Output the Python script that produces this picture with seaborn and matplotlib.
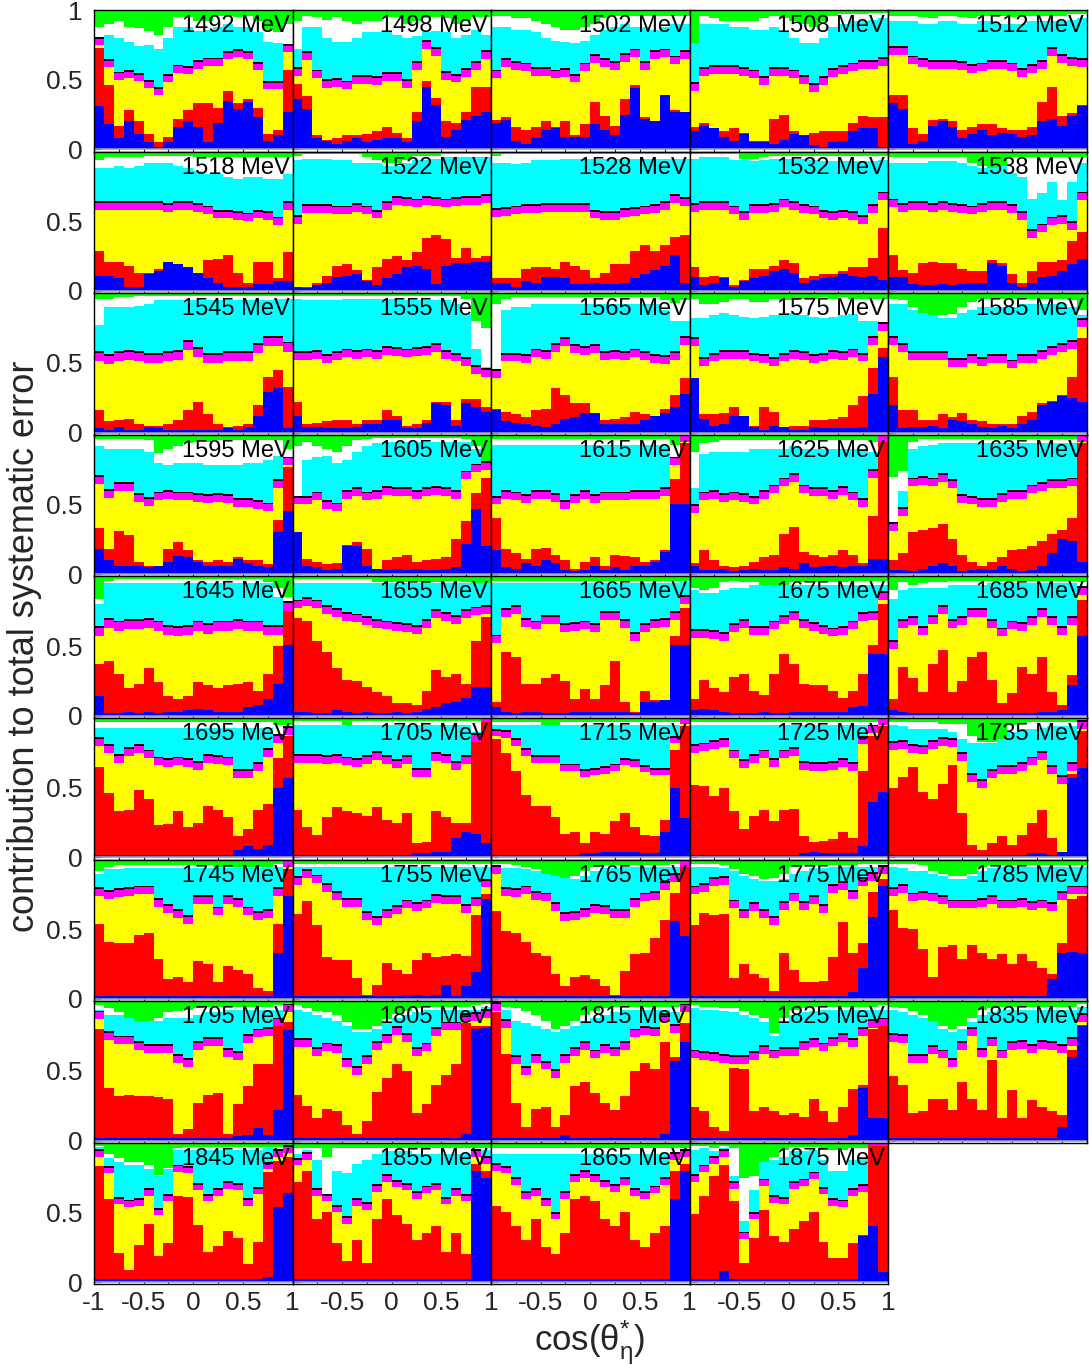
import numpy as np
import pandas as pd
import matplotlib
matplotlib.use("Agg")
import matplotlib.pyplot as plt
import seaborn as sns
from matplotlib.ticker import MultipleLocator, FixedLocator

# Cumulative layer tops (percent) for 20 bins of cos(theta*_eta), one dict per beam energy.
# blue/red/yellow/cyan/white are the upper edges of those bands; mag is the magenta band width.
p1492 = dict(E=1492, mag=4.5,
    blue=[31, 18, 8, 20, 11, 5, 2, 5, 16, 20, 16, 5, 19, 35, 29, 34, 23, 6, 10, 27],
    red=[73, 46, 17, 28, 20, 11, 5, 9, 22, 28, 33, 33, 30, 42, 33, 36, 30, 11, 14, 57],
    yellow=[75, 59, 50, 51, 49, 44, 39, 48, 55, 54, 58, 60, 60, 65, 66, 65, 57, 43, 43, 70],
    cyan=[76, 82, 80, 77, 74, 75, 72, 80, 88, 88, 85, 86, 88, 90, 88, 88, 84, 77, 76, 74],
    white=[88, 90, 92, 88, 87, 85, 82, 88, 95, 95, 92, 92, 96, 96, 95, 96, 92, 86, 84, 90])
p1498 = dict(E=1498, mag=5,
    blue=[36, 29, 8, 6, 4, 6, 8, 5, 7, 8, 8, 5, 20, 45, 32, 9, 14, 21, 24, 27],
    red=[47, 38, 10, 7, 8, 10, 10, 11, 13, 16, 12, 8, 27, 49, 37, 20, 19, 27, 45, 45],
    yellow=[53, 64, 51, 44, 45, 43, 47, 47, 46, 49, 49, 44, 57, 72, 67, 50, 48, 52, 57, 65],
    cyan=[72, 88, 88, 80, 77, 77, 80, 84, 84, 85, 82, 80, 81, 84, 85, 84, 80, 82, 86, 82],
    white=[92, 96, 95, 93, 95, 92, 90, 92, 92, 95, 95, 90, 92, 94, 95, 94, 90, 92, 95, 95])
p1502 = dict(E=1502, mag=5,
    blue=[19, 21, 6, 4, 8, 14, 15, 9, 9, 9, 18, 14, 10, 25, 44, 22, 20, 39, 27, 27],
    red=[21, 23, 16, 14, 16, 20, 16, 20, 10, 18, 34, 24, 17, 36, 46, 23, 20, 39, 28, 27],
    yellow=[51, 59, 57, 56, 53, 53, 51, 52, 48, 56, 62, 59, 57, 63, 66, 57, 65, 66, 61, 65],
    cyan=[88, 88, 86, 86, 84, 80, 78, 77, 76, 78, 82, 86, 88, 90, 88, 88, 86, 88, 90, 90],
    white=[96, 96, 94, 94, 92, 90, 88, 86, 86, 88, 90, 94, 96, 96, 96, 96, 96, 96, 96, 96])
p1508 = dict(E=1508, mag=5,
    blue=[13, 17, 15, 9, 6, 11, 5, 5, 4, 7, 11, 10, 3, 2, 5, 6, 13, 15, 15, 2],
    red=[16, 19, 15, 13, 15, 12, 6, 6, 22, 25, 13, 10, 12, 13, 13, 13, 19, 24, 23, 23],
    yellow=[42, 53, 54, 54, 54, 53, 51, 46, 53, 53, 51, 47, 41, 46, 52, 54, 56, 58, 58, 60],
    cyan=[76, 90, 90, 90, 88, 88, 86, 86, 88, 85, 80, 76, 76, 80, 88, 90, 92, 92, 93, 94],
    white=[76, 96, 94, 92, 92, 92, 92, 94, 96, 94, 92, 90, 88, 92, 96, 97, 97, 97, 98, 98])
p1512 = dict(E=1512, mag=5,
    blue=[33, 29, 4, 6, 17, 20, 16, 8, 11, 14, 10, 12, 11, 9, 10, 20, 22, 17, 24, 31],
    red=[39, 39, 15, 11, 21, 22, 20, 14, 16, 18, 18, 15, 14, 14, 16, 34, 45, 24, 26, 32],
    yellow=[68, 68, 61, 59, 58, 58, 58, 57, 55, 56, 58, 58, 56, 52, 55, 58, 67, 62, 60, 59],
    cyan=[92, 92, 92, 90, 90, 92, 92, 90, 90, 92, 92, 90, 90, 90, 92, 92, 92, 92, 93, 94],
    white=[96, 96, 96, 95, 94, 96, 96, 95, 94, 96, 96, 96, 95, 96, 96, 96, 96, 96, 97, 97])
p1518 = dict(E=1518, mag=5,
    blue=[11, 11, 9, 3, 3, 12, 14, 21, 19, 17, 13, 9, 6, 3, 3, 3, 5, 5, 7, 7],
    red=[29, 21, 21, 18, 13, 13, 16, 20, 16, 15, 13, 22, 23, 26, 13, 6, 21, 21, 9, 28],
    yellow=[58, 58, 58, 58, 58, 58, 58, 57, 58, 58, 57, 55, 52, 52, 51, 50, 52, 51, 47, 58],
    cyan=[88, 88, 90, 88, 90, 92, 92, 92, 90, 88, 86, 84, 84, 82, 80, 82, 82, 80, 80, 84],
    white=[94, 96, 96, 96, 96, 97, 97, 97, 97, 97, 96, 96, 96, 96, 96, 96, 96, 96, 96, 96])
p1522 = dict(E=1522, mag=5,
    blue=[3, 2, 4, 6, 10, 11, 12, 7, 4, 9, 12, 17, 18, 16, 5, 18, 20, 20, 21, 21],
    red=[3, 3, 6, 11, 18, 19, 15, 8, 17, 23, 25, 22, 28, 38, 40, 37, 24, 31, 24, 25],
    yellow=[48, 56, 56, 56, 55, 55, 57, 55, 52, 58, 62, 61, 60, 62, 61, 60, 61, 62, 62, 63],
    cyan=[94, 95, 95, 95, 94, 94, 92, 92, 92, 90, 90, 92, 94, 94, 95, 96, 96, 96, 96, 96],
    white=[97, 98, 98, 98, 98, 98, 98, 96, 94, 92, 92, 94, 97, 97, 97, 98, 98, 98, 98, 98])
p1528 = dict(E=1528, mag=5,
    blue=[6, 6, 3, 7, 6, 10, 10, 9, 5, 5, 6, 5, 5, 6, 9, 12, 15, 18, 26, 6],
    red=[9, 9, 9, 16, 17, 17, 16, 21, 18, 15, 9, 13, 19, 19, 29, 33, 29, 33, 39, 40],
    yellow=[53, 54, 55, 56, 56, 57, 57, 57, 57, 57, 52, 51, 51, 53, 54, 55, 56, 58, 63, 61],
    cyan=[92, 92, 91, 92, 94, 94, 94, 95, 95, 95, 95, 95, 95, 95, 95, 95, 95, 95, 95, 95],
    white=[97, 98, 98, 98, 98, 98, 98, 98, 98, 98, 98, 98, 98, 98, 98, 98, 98, 98, 98, 98])
p1532 = dict(E=1532, mag=5,
    blue=[10, 4, 6, 9, 3, 7, 9, 11, 14, 16, 13, 6, 8, 9, 10, 12, 11, 10, 11, 8],
    red=[17, 10, 11, 10, 4, 8, 16, 16, 18, 22, 20, 9, 11, 12, 12, 14, 17, 17, 24, 45],
    yellow=[57, 58, 58, 58, 55, 51, 56, 56, 57, 60, 58, 56, 55, 52, 51, 52, 51, 48, 56, 65],
    cyan=[95, 96, 96, 96, 94, 94, 93, 94, 95, 95, 95, 95, 94, 93, 93, 93, 93, 93, 93, 94],
    white=[98, 98, 98, 98, 98, 95, 95, 96, 97, 97, 97, 97, 97, 97, 97, 97, 97, 97, 97, 97])
p1538 = dict(E=1538, mag=5,
    blue=[10, 10, 5, 4, 4, 5, 4, 5, 6, 6, 20, 18, 6, 3, 6, 10, 11, 14, 19, 23],
    red=[26, 15, 13, 20, 21, 20, 20, 16, 14, 14, 22, 20, 12, 6, 14, 21, 21, 22, 36, 42],
    yellow=[60, 57, 58, 58, 57, 58, 57, 56, 55, 57, 58, 58, 56, 51, 38, 42, 47, 48, 44, 65],
    cyan=[92, 92, 92, 92, 93, 93, 93, 92, 90, 88, 88, 90, 85, 82, 66, 70, 78, 65, 78, 92],
    white=[96, 96, 96, 96, 96, 96, 96, 96, 92, 90, 88, 90, 96, 96, 96, 96, 96, 96, 96, 96])
p1545 = dict(E=1545, mag=6,
    blue=[3, 2, 4, 2, 2, 4, 3, 2, 2, 2, 2, 2, 2, 3, 2, 4, 12, 29, 32, 3],
    red=[16, 8, 9, 10, 6, 5, 5, 6, 9, 16, 22, 13, 6, 4, 5, 6, 20, 40, 45, 33],
    yellow=[51, 49, 51, 52, 51, 50, 50, 51, 52, 59, 54, 50, 50, 51, 51, 51, 57, 62, 62, 58],
    cyan=[77, 90, 90, 90, 91, 92, 95, 95, 95, 95, 95, 95, 95, 95, 95, 95, 95, 95, 96, 96],
    white=[96, 96, 97, 97, 98, 98, 98, 98, 98, 98, 98, 98, 98, 98, 98, 98, 98, 98, 98, 98])
p1555 = dict(E=1555, mag=5,
    blue=[12, 4, 4, 3, 3, 3, 4, 6, 6, 9, 9, 3, 3, 7, 21, 20, 5, 21, 18, 15],
    red=[22, 6, 7, 8, 9, 9, 6, 9, 9, 16, 12, 5, 6, 9, 22, 22, 9, 24, 24, 18],
    yellow=[52, 52, 53, 50, 52, 54, 53, 54, 53, 56, 55, 54, 55, 56, 58, 53, 51, 48, 42, 40],
    cyan=[96, 95, 95, 95, 95, 96, 96, 96, 96, 96, 96, 95, 95, 95, 95, 95, 92, 85, 60, 47],
    white=[98, 98, 98, 98, 98, 98, 98, 98, 98, 98, 98, 98, 98, 98, 98, 98, 98, 96, 80, 75])
p1565 = dict(E=1565, mag=5,
    blue=[16, 8, 7, 6, 5, 4, 6, 10, 11, 14, 14, 6, 6, 6, 6, 9, 12, 14, 18, 28],
    red=[17, 15, 13, 11, 16, 17, 32, 27, 21, 21, 10, 9, 10, 11, 15, 13, 10, 17, 27, 39],
    yellow=[39, 51, 51, 50, 54, 53, 58, 62, 57, 56, 57, 52, 53, 52, 54, 52, 50, 49, 52, 63],
    cyan=[44, 88, 90, 90, 92, 92, 92, 92, 92, 92, 92, 92, 92, 92, 92, 92, 92, 88, 80, 80],
    white=[92, 96, 97, 97, 97, 97, 97, 97, 97, 97, 97, 97, 97, 97, 97, 97, 97, 95, 93, 95])
p1575 = dict(E=1575, mag=5,
    blue=[39, 10, 5, 6, 12, 12, 4, 2, 5, 4, 2, 2, 4, 3, 3, 3, 3, 4, 28, 54],
    red=[39, 13, 13, 14, 18, 12, 5, 18, 15, 3, 5, 5, 9, 9, 10, 11, 20, 26, 46, 61],
    yellow=[62, 48, 51, 53, 53, 53, 51, 50, 48, 51, 53, 52, 50, 51, 53, 52, 54, 51, 63, 73],
    cyan=[82, 82, 84, 86, 84, 83, 82, 83, 84, 85, 86, 84, 83, 82, 83, 84, 85, 80, 80, 76],
    white=[96, 92, 92, 94, 96, 96, 94, 94, 96, 95, 95, 96, 96, 97, 96, 97, 96, 96, 96, 96])
p1585 = dict(E=1585, mag=5,
    blue=[20, 3, 4, 4, 5, 3, 9, 8, 6, 4, 3, 5, 3, 6, 9, 20, 22, 26, 25, 22],
    red=[40, 16, 16, 9, 9, 13, 11, 14, 9, 8, 6, 6, 6, 12, 15, 21, 23, 27, 40, 68],
    yellow=[63, 58, 52, 52, 52, 52, 47, 47, 50, 48, 50, 50, 46, 50, 50, 53, 56, 58, 60, 76],
    cyan=[92, 92, 88, 86, 84, 82, 82, 86, 88, 90, 90, 90, 90, 92, 92, 92, 92, 92, 90, 84],
    white=[96, 95, 90, 86, 83, 84, 85, 90, 94, 96, 96, 96, 96, 96, 96, 96, 96, 96, 95, 88])
p1595 = dict(E=1595, mag=5,
    blue=[18, 10, 6, 6, 6, 5, 6, 9, 13, 12, 9, 6, 6, 6, 11, 8, 6, 5, 30, 45],
    red=[33, 18, 31, 28, 9, 6, 6, 18, 23, 17, 10, 9, 10, 9, 12, 10, 10, 7, 39, 77],
    yellow=[65, 55, 60, 60, 52, 49, 53, 54, 53, 53, 52, 51, 52, 51, 48, 48, 47, 45, 62, 78],
    cyan=[92, 90, 90, 90, 90, 88, 80, 78, 80, 80, 80, 78, 78, 78, 78, 80, 80, 82, 85, 82],
    white=[97, 97, 97, 97, 97, 96, 87, 90, 92, 94, 95, 95, 96, 96, 96, 96, 96, 96, 96, 90])
p1605 = dict(E=1605, mag=5,
    blue=[30, 6, 5, 3, 4, 20, 20, 6, 4, 3, 4, 3, 4, 3, 3, 4, 5, 22, 47, 20],
    red=[30, 11, 9, 7, 8, 21, 23, 18, 4, 10, 12, 14, 9, 10, 11, 12, 25, 38, 58, 69],
    yellow=[50, 50, 53, 47, 45, 54, 56, 53, 54, 57, 56, 56, 54, 56, 57, 56, 54, 68, 73, 75],
    cyan=[52, 82, 84, 85, 80, 82, 88, 92, 94, 95, 95, 95, 95, 95, 95, 95, 95, 95, 90, 79],
    white=[92, 95, 92, 90, 88, 92, 96, 97, 98, 98, 98, 98, 98, 98, 98, 98, 98, 97, 92, 80])
p1615 = dict(E=1615, mag=5,
    blue=[17, 5, 4, 8, 6, 10, 8, 3, 2, 3, 6, 3, 5, 3, 6, 6, 9, 16, 50, 50],
    red=[40, 18, 15, 11, 18, 19, 14, 10, 4, 9, 12, 6, 14, 13, 12, 9, 10, 17, 68, 94],
    yellow=[50, 54, 53, 51, 54, 54, 52, 47, 51, 54, 51, 53, 53, 53, 54, 54, 54, 56, 78, 95],
    cyan=[93, 93, 93, 93, 93, 93, 93, 93, 93, 93, 93, 93, 93, 93, 93, 93, 93, 92, 82, 97],
    white=[97, 97, 97, 97, 97, 97, 97, 97, 97, 97, 97, 97, 97, 97, 97, 97, 97, 97, 93, 98])
p1625 = dict(E=1625, mag=5,
    blue=[6, 3, 3, 4, 2, 3, 4, 3, 3, 5, 4, 8, 5, 6, 6, 5, 6, 6, 11, 11],
    red=[8, 17, 10, 6, 5, 6, 9, 12, 14, 29, 34, 16, 14, 12, 14, 17, 14, 8, 42, 95],
    yellow=[44, 53, 54, 52, 53, 52, 50, 54, 58, 63, 66, 58, 56, 56, 54, 57, 53, 48, 69, 95],
    cyan=[62, 86, 88, 88, 88, 88, 90, 90, 90, 90, 92, 90, 90, 90, 90, 90, 90, 90, 88, 96],
    white=[88, 94, 95, 96, 96, 96, 96, 96, 96, 96, 96, 96, 96, 96, 96, 96, 96, 96, 95, 98])
p1635 = dict(E=1635, mag=5,
    blue=[3, 3, 2, 4, 6, 8, 6, 2, 3, 4, 3, 6, 4, 2, 3, 6, 15, 25, 24, 9],
    red=[10, 15, 30, 32, 33, 36, 25, 14, 9, 6, 9, 12, 17, 18, 20, 24, 29, 32, 40, 94],
    yellow=[31, 42, 63, 64, 63, 66, 62, 51, 50, 48, 48, 52, 54, 54, 58, 60, 62, 62, 63, 95],
    cyan=[34, 60, 90, 92, 93, 94, 94, 94, 94, 94, 94, 94, 94, 94, 94, 94, 94, 94, 94, 97],
    white=[70, 74, 95, 97, 97, 97, 97, 97, 97, 97, 97, 97, 97, 97, 97, 97, 97, 97, 97, 98])
p1645 = dict(E=1645, mag=6,
    blue=[14, 2, 2, 3, 2, 3, 2, 3, 3, 4, 5, 4, 3, 3, 3, 6, 8, 12, 23, 51],
    red=[37, 39, 30, 20, 23, 34, 24, 14, 12, 14, 24, 22, 20, 22, 23, 24, 18, 30, 50, 75],
    yellow=[57, 63, 61, 62, 62, 63, 61, 58, 57, 58, 61, 59, 61, 61, 62, 61, 61, 58, 58, 74],
    cyan=[80, 95, 95, 95, 95, 95, 95, 95, 95, 95, 95, 95, 95, 95, 95, 95, 95, 95, 85, 80],
    white=[84, 97, 98, 98, 98, 98, 98, 98, 98, 98, 98, 98, 98, 98, 98, 98, 98, 96, 92, 85])
p1655 = dict(E=1655, mag=5,
    blue=[3, 3, 2, 2, 4, 3, 2, 3, 2, 2, 3, 2, 3, 5, 6, 9, 10, 13, 21, 21],
    red=[70, 68, 54, 46, 34, 26, 25, 21, 17, 14, 9, 9, 8, 18, 33, 28, 30, 23, 54, 71],
    yellow=[77, 79, 77, 73, 71, 68, 67, 65, 63, 62, 61, 60, 59, 63, 70, 68, 66, 70, 72, 73],
    cyan=[95, 95, 95, 95, 95, 95, 95, 95, 95, 95, 95, 95, 95, 95, 95, 95, 95, 95, 95, 95],
    white=[98, 98, 98, 98, 98, 98, 98, 98, 96, 96, 96, 96, 96, 95, 96, 97, 97, 96, 90, 90])
p1665 = dict(E=1665, mag=5,
    blue=[6, 3, 2, 3, 3, 2, 2, 2, 3, 3, 3, 3, 3, 3, 2, 10, 10, 11, 51, 51],
    red=[10, 46, 42, 23, 23, 27, 30, 25, 12, 19, 12, 22, 39, 10, 3, 18, 11, 11, 57, 77],
    yellow=[52, 71, 73, 64, 62, 66, 66, 60, 61, 62, 60, 69, 69, 63, 54, 60, 63, 64, 69, 80],
    cyan=[95, 95, 95, 95, 95, 95, 95, 95, 95, 95, 95, 95, 95, 95, 95, 95, 95, 95, 95, 96],
    white=[97, 97, 97, 97, 97, 97, 97, 97, 97, 97, 97, 97, 97, 97, 97, 97, 97, 97, 97, 97])
p1675 = dict(E=1675, mag=5,
    blue=[4, 5, 4, 3, 2, 2, 2, 3, 2, 2, 3, 3, 3, 3, 3, 3, 6, 7, 44, 44],
    red=[12, 26, 20, 17, 28, 30, 18, 15, 30, 44, 37, 23, 22, 22, 18, 13, 18, 30, 51, 80],
    yellow=[56, 56, 55, 54, 60, 63, 58, 58, 62, 66, 69, 63, 61, 59, 57, 58, 62, 68, 69, 83],
    cyan=[90, 88, 88, 90, 92, 92, 94, 94, 94, 94, 94, 94, 94, 94, 94, 94, 94, 94, 94, 94],
    white=[92, 90, 92, 96, 97, 96, 96, 94, 92, 93, 96, 96, 96, 96, 96, 96, 97, 97, 97, 97])
p1685 = dict(E=1685, mag=5,
    blue=[4, 3, 2, 2, 2, 2, 2, 2, 2, 2, 2, 2, 2, 2, 2, 3, 3, 4, 22, 57],
    red=[12, 35, 27, 17, 37, 47, 17, 25, 42, 46, 26, 9, 16, 35, 30, 42, 17, 8, 29, 83],
    yellow=[48, 63, 65, 58, 66, 73, 63, 65, 71, 71, 63, 57, 62, 61, 65, 71, 65, 58, 65, 87],
    cyan=[84, 90, 92, 92, 92, 92, 94, 94, 94, 94, 95, 95, 95, 95, 95, 95, 95, 95, 95, 92],
    white=[90, 96, 94, 95, 96, 96, 97, 97, 97, 97, 97, 97, 97, 97, 97, 97, 97, 97, 97, 96])
p1695 = dict(E=1695, mag=5,
    blue=[2, 2, 2, 2, 2, 2, 2, 2, 2, 2, 2, 2, 2, 2, 5, 8, 6, 9, 50, 57],
    red=[65, 46, 33, 34, 48, 42, 23, 24, 33, 22, 25, 37, 34, 29, 15, 20, 34, 38, 71, 87],
    yellow=[80, 75, 68, 73, 75, 71, 66, 65, 66, 65, 63, 68, 67, 66, 57, 57, 62, 72, 82, 88],
    cyan=[93, 93, 93, 93, 93, 93, 93, 93, 93, 93, 93, 93, 93, 93, 93, 93, 93, 93, 88, 88],
    white=[97, 97, 97, 97, 97, 97, 97, 97, 97, 97, 97, 97, 97, 97, 97, 97, 97, 97, 95, 95])
p1705 = dict(E=1705, mag=5,
    blue=[2, 2, 2, 2, 2, 2, 2, 2, 2, 2, 2, 2, 3, 3, 4, 4, 14, 18, 17, 10],
    red=[34, 22, 16, 29, 36, 33, 32, 30, 36, 27, 25, 32, 10, 11, 33, 29, 25, 25, 83, 97],
    yellow=[68, 68, 68, 67, 68, 66, 65, 67, 70, 67, 64, 67, 58, 58, 69, 68, 63, 67, 83, 97],
    cyan=[95, 95, 95, 95, 95, 95, 95, 95, 95, 95, 95, 95, 95, 95, 95, 95, 95, 95, 90, 98],
    white=[98, 98, 98, 98, 98, 89, 98, 98, 98, 98, 98, 98, 98, 98, 98, 98, 98, 98, 98, 99])
p1715 = dict(E=1715, mag=4,
    blue=[2, 2, 2, 2, 2, 2, 2, 2, 2, 3, 3, 4, 4, 4, 4, 3, 3, 18, 50, 28],
    red=[85, 75, 62, 45, 37, 37, 29, 17, 18, 10, 18, 17, 26, 32, 22, 16, 15, 27, 77, 94],
    yellow=[87, 86, 80, 73, 68, 68, 68, 62, 62, 58, 59, 60, 62, 66, 65, 61, 59, 59, 82, 96],
    cyan=[95, 95, 95, 95, 95, 95, 95, 95, 95, 95, 95, 95, 95, 95, 95, 95, 95, 95, 95, 95],
    white=[97, 97, 97, 97, 97, 92, 92, 97, 97, 97, 97, 97, 97, 97, 97, 97, 97, 97, 97, 98])
p1725 = dict(E=1725, mag=5,
    blue=[2, 2, 2, 2, 2, 2, 2, 2, 2, 2, 2, 3, 4, 3, 3, 3, 3, 8, 40, 47],
    red=[52, 51, 44, 50, 33, 20, 30, 34, 26, 34, 35, 15, 11, 12, 13, 18, 14, 62, 87, 94],
    yellow=[75, 76, 78, 79, 71, 64, 68, 71, 65, 71, 73, 63, 62, 62, 63, 65, 62, 81, 89, 95],
    cyan=[95, 95, 95, 95, 95, 95, 95, 95, 95, 95, 95, 95, 95, 95, 95, 95, 95, 95, 95, 95],
    white=[97, 97, 97, 97, 97, 97, 97, 97, 97, 97, 97, 97, 97, 97, 97, 97, 97, 97, 97, 97])
p1735 = dict(E=1735, mag=5,
    blue=[2, 2, 2, 2, 2, 2, 2, 2, 2, 2, 2, 2, 2, 2, 3, 3, 2, 4, 57, 64],
    red=[50, 58, 65, 47, 42, 53, 66, 32, 9, 5, 10, 15, 9, 16, 25, 34, 14, 4, 60, 91],
    yellow=[77, 78, 75, 74, 78, 80, 79, 69, 54, 50, 57, 60, 60, 62, 66, 70, 60, 53, 62, 92],
    cyan=[95, 94, 92, 92, 92, 92, 90, 85, 82, 82, 82, 85, 90, 92, 92, 93, 94, 94, 94, 96],
    white=[97, 97, 97, 97, 97, 96, 96, 96, 87, 83, 83, 85, 95, 96, 97, 97, 97, 97, 97, 98])
p1745 = dict(E=1745, mag=5,
    blue=[2, 2, 2, 2, 2, 2, 2, 2, 2, 2, 2, 2, 2, 2, 2, 2, 2, 2, 33, 74],
    red=[54, 41, 40, 40, 46, 47, 29, 14, 16, 12, 27, 25, 12, 24, 21, 18, 8, 6, 54, 93],
    yellow=[74, 72, 73, 74, 75, 75, 66, 62, 58, 54, 68, 68, 60, 68, 66, 60, 57, 58, 74, 95],
    cyan=[90, 93, 93, 94, 94, 94, 94, 94, 94, 94, 94, 94, 94, 94, 94, 94, 94, 94, 95, 96],
    white=[92, 95, 96, 96, 96, 96, 96, 96, 96, 96, 96, 96, 95, 95, 95, 95, 95, 95, 97, 98])
p1755 = dict(E=1755, mag=5,
    blue=[2, 2, 2, 2, 2, 2, 2, 2, 2, 2, 2, 3, 3, 2, 3, 10, 2, 9, 19, 72],
    red=[61, 70, 53, 30, 28, 28, 15, 3, 10, 26, 21, 18, 28, 33, 30, 31, 32, 31, 60, 75],
    yellow=[82, 87, 83, 77, 71, 66, 66, 57, 53, 58, 61, 65, 63, 65, 69, 68, 68, 62, 67, 80],
    cyan=[95, 95, 95, 95, 95, 95, 95, 95, 95, 95, 95, 95, 95, 95, 95, 95, 95, 95, 95, 95],
    white=[97, 97, 97, 97, 97, 97, 97, 97, 97, 97, 97, 97, 97, 97, 97, 97, 97, 97, 97, 97])
p1765 = dict(E=1765, mag=5,
    blue=[2, 2, 2, 2, 2, 2, 2, 2, 2, 2, 2, 2, 2, 2, 2, 2, 2, 2, 56, 45],
    red=[63, 49, 47, 41, 33, 31, 18, 9, 16, 17, 14, 9, 3, 20, 32, 33, 44, 57, 76, 95],
    yellow=[90, 74, 73, 75, 71, 70, 63, 56, 57, 59, 62, 61, 58, 58, 66, 70, 71, 78, 84, 95],
    cyan=[95, 94, 94, 93, 92, 90, 88, 87, 86, 88, 92, 94, 94, 95, 95, 95, 95, 95, 95, 96],
    white=[97, 97, 96, 95, 93, 90, 87, 87, 88, 92, 95, 96, 96, 96, 96, 96, 96, 96, 97, 97])
p1775 = dict(E=1775, mag=5,
    blue=[2, 2, 2, 2, 2, 2, 2, 2, 2, 2, 2, 2, 2, 2, 2, 2, 5, 22, 59, 81],
    red=[53, 62, 60, 61, 15, 25, 18, 15, 6, 33, 21, 12, 12, 13, 30, 55, 33, 40, 77, 86],
    yellow=[75, 77, 81, 82, 65, 58, 63, 58, 53, 64, 70, 64, 68, 62, 76, 78, 72, 81, 85, 90],
    cyan=[95, 95, 95, 94, 92, 88, 86, 85, 85, 86, 90, 92, 94, 94, 95, 95, 95, 95, 95, 96],
    white=[97, 97, 97, 96, 93, 90, 88, 86, 87, 90, 95, 96, 96, 96, 96, 96, 96, 97, 97, 97])
p1785 = dict(E=1785, mag=5,
    blue=[2, 2, 2, 2, 2, 2, 2, 2, 2, 2, 2, 2, 2, 2, 2, 2, 14, 33, 34, 33],
    red=[64, 51, 50, 36, 16, 37, 39, 29, 39, 33, 29, 32, 25, 32, 27, 22, 18, 40, 72, 74],
    yellow=[74, 76, 70, 71, 70, 68, 65, 65, 65, 66, 68, 65, 65, 66, 64, 65, 63, 71, 75, 75],
    cyan=[95, 94, 92, 92, 90, 88, 86, 86, 88, 92, 94, 95, 95, 95, 95, 95, 95, 95, 95, 95],
    white=[97, 97, 97, 96, 92, 90, 88, 88, 90, 95, 96, 96, 96, 96, 96, 96, 96, 96, 96, 96])
p1795 = dict(E=1795, mag=5,
    blue=[2, 2, 2, 2, 2, 2, 2, 2, 2, 2, 2, 2, 2, 2, 3, 4, 9, 4, 22, 79],
    red=[80, 38, 32, 33, 32, 32, 31, 30, 5, 8, 27, 33, 34, 5, 26, 39, 55, 55, 82, 85],
    yellow=[87, 72, 69, 69, 65, 63, 63, 63, 56, 53, 65, 68, 68, 60, 58, 70, 74, 75, 80, 92],
    cyan=[94, 90, 90, 88, 86, 86, 86, 88, 88, 88, 90, 92, 92, 94, 94, 94, 94, 94, 94, 96],
    white=[97, 95, 92, 88, 85, 85, 88, 92, 93, 94, 95, 96, 96, 96, 96, 96, 96, 96, 97, 98])
p1805 = dict(E=1805, mag=5,
    blue=[2, 2, 2, 2, 2, 2, 2, 2, 2, 2, 2, 2, 2, 2, 2, 2, 2, 5, 80, 81],
    red=[33, 25, 16, 23, 21, 11, 5, 14, 35, 45, 55, 50, 20, 26, 40, 47, 55, 84, 82, 82],
    yellow=[67, 67, 61, 64, 63, 53, 47, 55, 65, 70, 76, 71, 61, 64, 75, 79, 79, 85, 86, 88],
    cyan=[94, 92, 90, 88, 86, 82, 78, 78, 80, 84, 88, 90, 92, 94, 94, 94, 94, 94, 94, 96],
    white=[97, 95, 93, 92, 90, 85, 80, 80, 82, 87, 91, 93, 95, 96, 96, 96, 96, 96, 97, 98])
p1815 = dict(E=1815, mag=5,
    blue=[2, 2, 2, 2, 2, 2, 2, 4, 2, 2, 2, 2, 2, 2, 2, 2, 2, 5, 57, 71],
    red=[92, 62, 27, 10, 23, 24, 10, 18, 39, 42, 34, 27, 22, 32, 50, 56, 51, 71, 60, 84],
    yellow=[93, 81, 55, 47, 56, 51, 45, 56, 61, 65, 59, 63, 61, 65, 74, 76, 75, 85, 77, 92],
    cyan=[96, 94, 86, 84, 82, 80, 78, 80, 82, 86, 88, 90, 92, 94, 94, 94, 94, 94, 92, 96],
    white=[98, 96, 95, 93, 90, 86, 80, 82, 86, 90, 93, 95, 96, 96, 96, 96, 96, 96, 96, 98])
p1825 = dict(E=1825, mag=5,
    blue=[2, 2, 2, 2, 2, 2, 2, 2, 2, 2, 2, 2, 2, 2, 2, 2, 4, 38, 16, 16],
    red=[24, 21, 10, 7, 52, 51, 21, 24, 21, 18, 20, 17, 30, 21, 13, 24, 37, 40, 80, 82],
    yellow=[59, 58, 57, 56, 55, 55, 58, 62, 59, 61, 61, 65, 67, 64, 68, 71, 67, 75, 81, 82],
    cyan=[95, 94, 94, 93, 92, 90, 88, 85, 75, 86, 90, 92, 93, 94, 94, 94, 94, 94, 94, 94],
    white=[97, 96, 96, 95, 95, 93, 90, 88, 77, 88, 94, 95, 96, 96, 96, 96, 96, 96, 96, 97])
p1835 = dict(E=1835, mag=5,
    blue=[2, 2, 2, 2, 2, 2, 2, 2, 2, 2, 2, 2, 2, 2, 2, 2, 2, 10, 60, 82],
    red=[46, 40, 20, 21, 30, 30, 22, 42, 30, 22, 58, 16, 36, 16, 29, 24, 21, 18, 65, 83],
    yellow=[71, 70, 56, 56, 62, 59, 53, 65, 75, 60, 68, 59, 65, 66, 63, 66, 65, 63, 68, 85],
    cyan=[94, 92, 90, 88, 86, 80, 78, 80, 85, 90, 92, 94, 94, 94, 94, 94, 94, 94, 94, 96],
    white=[96, 95, 93, 90, 86, 82, 80, 82, 88, 94, 95, 96, 96, 96, 96, 96, 96, 96, 96, 98])
p1845 = dict(E=1845, mag=4,
    blue=[2, 2, 2, 2, 2, 2, 2, 2, 2, 2, 2, 2, 2, 2, 2, 2, 2, 4, 54, 64],
    red=[83, 60, 21, 9, 27, 42, 19, 28, 62, 61, 41, 22, 26, 37, 32, 13, 29, 79, 87, 90],
    yellow=[90, 78, 56, 54, 55, 62, 48, 58, 79, 78, 66, 58, 62, 67, 66, 55, 63, 81, 90, 93],
    cyan=[97, 89, 86, 84, 84, 81, 76, 81, 95, 95, 95, 95, 95, 95, 95, 95, 95, 96, 95, 96],
    white=[98, 92, 89, 86, 86, 84, 77, 82, 96, 97, 97, 97, 97, 97, 97, 97, 97, 97, 97, 97])
p1855 = dict(E=1855, mag=4,
    blue=[2, 2, 2, 2, 2, 2, 2, 2, 2, 2, 2, 2, 2, 2, 2, 2, 2, 2, 80, 75],
    red=[72, 80, 45, 50, 28, 15, 30, 14, 45, 60, 48, 42, 30, 35, 40, 22, 35, 20, 85, 80],
    yellow=[84, 88, 62, 58, 50, 42, 55, 52, 65, 72, 68, 66, 60, 64, 66, 56, 62, 58, 90, 85],
    cyan=[92, 95, 88, 50, 80, 78, 85, 88, 92, 94, 94, 94, 92, 92, 92, 92, 92, 92, 95, 95],
    white=[96, 96, 96, 90, 96, 96, 96, 96, 96, 96, 96, 96, 96, 96, 96, 96, 96, 96, 96, 96])
p1865 = dict(E=1865, mag=4,
    blue=[2, 2, 2, 2, 2, 2, 2, 2, 2, 2, 2, 2, 2, 2, 2, 2, 2, 2, 60, 80],
    red=[55, 50, 40, 30, 45, 25, 20, 35, 60, 62, 58, 45, 40, 50, 30, 25, 35, 40, 80, 85],
    yellow=[80, 78, 70, 60, 62, 55, 45, 60, 72, 75, 72, 68, 65, 70, 62, 60, 64, 70, 88, 90],
    cyan=[92, 92, 92, 92, 92, 92, 92, 92, 92, 92, 92, 92, 92, 92, 92, 92, 92, 92, 92, 92],
    white=[96, 96, 96, 96, 96, 96, 96, 96, 96, 96, 96, 96, 96, 96, 96, 96, 96, 96, 96, 96])
p1875 = dict(E=1875, mag=4,
    blue=[2, 2, 2, 8, 2, 2, 2, 2, 2, 2, 2, 2, 2, 2, 2, 2, 2, 33, 40, 7],
    red=[49, 62, 76, 84, 58, 14, 32, 52, 33, 29, 38, 44, 50, 29, 17, 17, 28, 34, 98, 98],
    yellow=[72, 79, 85, 90, 67, 31, 45, 69, 57, 56, 67, 69, 74, 63, 55, 54, 62, 65, 98, 98],
    cyan=[95, 96, 94, 96, 76, 44, 66, 86, 88, 90, 94, 94, 95, 88, 80, 80, 88, 90, 99, 99],
    white=[98, 98, 96, 98, 96, 75, 76, 86, 90, 95, 97, 97, 97, 95, 95, 95, 96, 96, 99, 99])

panels = [p1492, p1498, p1502, p1508, p1512,
          p1518, p1522, p1528, p1532, p1538,
          p1545, p1555, p1565, p1575, p1585,
          p1595, p1605, p1615, p1625, p1635,
          p1645, p1655, p1665, p1675, p1685,
          p1695, p1705, p1715, p1725, p1735,
          p1745, p1755, p1765, p1775, p1785,
          p1795, p1805, p1815, p1825, p1835,
          p1845, p1855, p1865, p1875]

bin_centers = np.round(np.linspace(-0.95, 0.95, 20), 3)
BLACK_BAND = 1.3

# drawing order: tallest (top-of-stack) first so lower bands paint over it
LAYERS = ["green", "white", "cyan", "black", "magenta", "yellow", "red", "blue"]
PALETTE = {"green": "#00ff00", "white": "#ffffff", "cyan": "#00ffff", "black": "#000000",
           "magenta": "#ff00ff", "yellow": "#ffff00", "red": "#ff0000", "blue": "#0000ff"}


def stack_tops(p):
    b = np.asarray(p["blue"], float)
    r = np.maximum(p["red"], b)
    y = np.maximum(p["yellow"], r)
    m = np.minimum(y + p["mag"], 100)
    k = np.minimum(m + BLACK_BAND, 100)
    c = np.maximum(p["cyan"], k)
    w = np.maximum(p["white"], c)
    g = np.full(len(b), 100.0)
    return {"green": g, "white": w, "cyan": c, "black": k,
            "magenta": m, "yellow": y, "red": r, "blue": b}


sns.set_theme(style="white")
plt.rcParams["font.family"] = ["Liberation Sans", "DejaVu Sans"]
plt.rcParams["mathtext.fontset"] = "custom"
plt.rcParams["mathtext.rm"] = "Liberation Sans"
plt.rcParams["mathtext.it"] = "Liberation Sans:italic"

W, H = 1089, 1365
fig = plt.figure(figsize=(W / 100, H / 100), dpi=100)
fig.patch.set_facecolor("white")

PW, PH = 198.5, 141.6
X0, Y0 = 94.0, 10.0
NCOL = 5
n_panels = len(panels)
last_row = (n_panels - 1) // NCOL

for idx, p in enumerate(panels):
    row, col = divmod(idx, NCOL)
    left = X0 + col * PW
    top = Y0 + row * PH
    ax = fig.add_axes([left / W, 1 - (top + PH) / H, PW / W, PH / H])

    tops = stack_tops(p)
    df = pd.DataFrame({
        "cos": np.tile(bin_centers, len(LAYERS)),
        "layer": np.repeat(LAYERS, len(bin_centers)),
        "top": np.concatenate([tops[l] for l in LAYERS]) / 100.0,
    })
    sns.barplot(data=df, x="cos", y="top", hue="layer", hue_order=LAYERS,
                palette=PALETTE, native_scale=True, dodge=False, width=1.0,
                saturation=1, errorbar=None, legend=False,
                linewidth=0, edgecolor="none", antialiased=False, ax=ax)

    ax.set_xlim(-1, 1)
    ax.set_ylim(-0.016, 1.0)
    ax.axhline(0, color="#9c9cae", lw=1.2, zorder=5)
    ax.set_xlabel("")
    ax.set_ylabel("")
    ax.set_facecolor("white")
    for s in ax.spines.values():
        s.set_color("black")
        s.set_linewidth(1.0)
        s.set_zorder(6)

    ax.xaxis.set_major_locator(FixedLocator([-1, -0.5, 0, 0.5, 1]))
    ax.xaxis.set_minor_locator(FixedLocator([-0.75, -0.25, 0.25, 0.75]))
    ax.yaxis.set_minor_locator(MultipleLocator(0.1))
    ax.tick_params(which="both", direction="in", bottom=True, left=True,
                   top=False, right=False, color="#222222", width=0.8)
    ax.tick_params(which="major", length=5)
    ax.tick_params(which="minor", length=3)

    if row == 0:
        ax.set_yticks([0, 0.5, 1])
        ax.set_yticklabels(["0", "0.5", "1"])
    else:
        ax.set_yticks([0, 0.5])
        ax.set_yticklabels(["0", "0.5"])
    ax.tick_params(axis="y", labelsize=19, pad=8, labelleft=(col == 0))

    ax.set_xticks([-1, -0.5, 0, 0.5, 1])
    if col == 0:
        ax.set_xticklabels(["-1", "-0.5", "0", "0.5", "1"])
    else:
        ax.set_xticklabels(["", "-0.5", "0", "0.5", "1"])
    ax.tick_params(axis="x", labelsize=19, pad=5, labelbottom=(row == last_row))

    ax.text(0.985, 0.887, f"{p['E']} MeV", transform=ax.transAxes,
            ha="right", va="center", fontsize=17, color="black", zorder=7)

fig.text(25 / W, 1 - 646 / H, "contribution to total systematic error",
         rotation=90, ha="center", va="center", fontsize=26)
fig.text(590 / W, 1 - 1343 / H, r"cos($\mathregular{\theta^{*}_{\eta}}$)",
         ha="center", va="center", fontsize=25)

fig.savefig("out.png", dpi=100, facecolor="white")
